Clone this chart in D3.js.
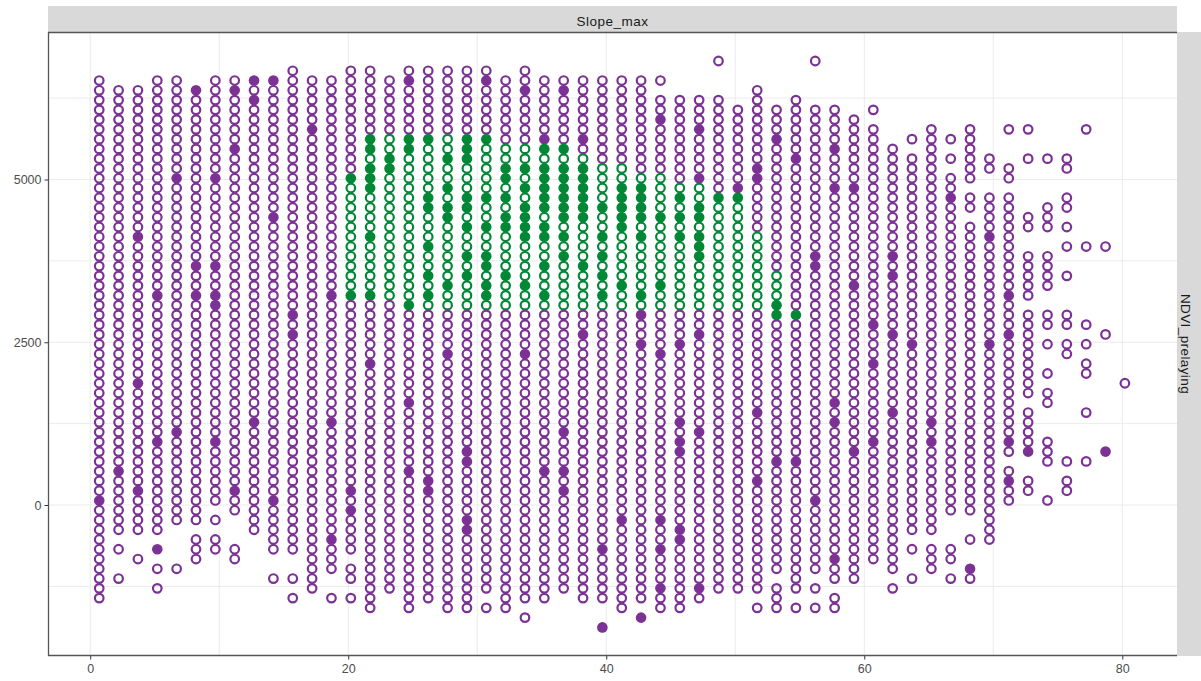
<!DOCTYPE html>
<html><head><meta charset="utf-8">
<script src="https://cdn.jsdelivr.net/npm/d3@7/dist/d3.min.js"></script>
<style>html,body{margin:0;padding:0;background:#fff}svg{display:block}text{font-family:"Liberation Sans",Arial,sans-serif}</style>
</head><body><svg id="c" width="1201" height="681"></svg>
<script>
// Slope_max level of every column of points
const slopeLevels = [0.7,2.2,3.7,5.2,6.7,8.2,9.7,11.2,12.7,14.2,15.7,17.2,18.7,20.2,21.7,23.2,24.7,26.2,27.7,29.2,30.7,32.2,33.7,35.2,36.7,38.2,39.7,41.2,42.7,44.2,45.7,47.2,48.7,50.2,51.7,53.2,54.7,56.2,57.7,59.2,60.7,62.2,63.7,65.2,66.7,68.2,69.7,71.2,72.7,74.2,75.7,77.2,78.7,80.2];
// NDVI_prelaying level of every row of points
const ndviLevels = [6820,6670,6520,6370,6220,6070,5920,5770,5620,5470,5320,5170,5020,4870,4720,4570,4420,4270,4120,3970,3820,3670,3520,3370,3220,3070,2920,2770,2620,2470,2320,2170,2020,1870,1720,1570,1420,1270,1120,970,820,670,520,370,220,70,-80,-230,-380,-530,-680,-830,-980,-1130,-1280,-1430,-1580,-1730,-1880];
// Runs of occupied rows in each column [first,last]
const occupiedRuns = [
[[2,55]],[[3,48],[50,50],[53,53]],[[3,48],[51,51]],[[2,48],[50,50],[52,52],[54,54]],[[2,47],[52,52]],
[[3,47],[49,51]],[[2,45],[47,47],[49,50]],[[2,46],[50,51]],[[2,48]],[[2,50],[53,53]],
[[1,50],[53,53],[55,55]],[[2,54]],[[2,52],[55,55]],[[1,50],[52,53],[55,55]],[[1,56]],
[[2,54]],[[1,56]],[[1,55]],[[1,56]],[[1,56]],
[[1,54],[56,56]],[[2,56]],[[1,55],[57,57]],[[2,55]],[[2,54]],
[[2,55]],[[2,55],[58,58]],[[2,56]],[[2,55],[57,57]],[[2,2],[4,56]],
[[4,56]],[[4,55]],[[0,0],[4,54]],[[5,54]],[[3,54],[56,56]],
[[5,52],[54,56]],[[4,54],[56,56]],[[0,0],[5,52],[54,54],[56,56]],[[5,53],[55,56]],[[6,53]],
[[5,5],[7,51]],[[9,52],[54,54]],[[8,8],[10,48],[50,50],[53,53]],[[7,48],[50,52]],[[8,8],[10,10],[12,46],[50,51],[53,53]],
[[7,12],[14,15],[17,46],[49,49],[52,53]],[[10,11],[14,49]],[[7,7],[11,12],[14,40],[42,45]],
[[7,7],[10,10],[16,17],[20,24],[26,34],[36,40],[43,44]],
[[10,10],[15,17],[20,23],[26,27],[29,29],[32,32],[34,35],[39,41],[45,45]],
[[10,11],[14,15],[17,17],[19,19],[22,22],[26,27],[29,30],[41,41],[43,44]],
[[7,7],[19,19],[27,27],[29,29],[31,32],[36,36],[41,41]],[[19,19],[28,28],[40,40]],[[33,33]]
];
// Rows whose point is solid in each column
const solidRows = [
[45],[42],[18,33,44],[24,39,50],[12,38],[3,21,24],[12,21,24,25,39],[3,9,44],[2,4,37],[2,16,45],[26,28],[7],[24,37,49],
[12,24,44,46],[8,9,11,12,13,18,24,31],[10,11],[2,8,9,25,35,42],[8,14,15,19,22,24,43,44],[10,13,15,16,23,30],
[8,9,10,14,15,17,20,22,40,41,47,48],[2,8,14,17,20,21,23,24],[11,12,14,16,17,22],[3,11,13,15,16,17,18,23,30],
[8,9,11,12,13,14,15,17,18,21,24,42],[3,9,11,12,13,14,15,16,18,20,38,42,44],[8,11,12,13,14,15,16,21,28],
[15,18,20,22,24,50,58],[13,14,15,16,17,23,47],[13,14,15,16,18,24,26,29,57],[6,16,23,30,47,50,54],
[14,16,18,29,37,39,40,48,49],[7,12,15,16,18,19,20,28,38,54],[14],[13,14],[11,12,36,43],[8,25,26,41],[10,26,41],
[20,21,45],[9,13,35,37,51],[13,23,40],[27,31,39],[20,22,28,36],[29],[37,39],[14],[52],[18,29],[24,28,39,43],[40],[],[],[],[40],[]
];
// Rows in the green group, by column index
const greenColumns = [13,14,15,16,17,18,19,20,21,22,23,24,25,26,27,28,29,30,31,32,33,34,35,36];
const greenRuns = [[12,24],[8,24],[8,24],[8,25],[8,25],[8,25],[8,25],[8,25],[9,25],[9,25],[9,25],[9,25],[10,25],[11,25],[11,25],[12,25],[12,25],[13,25],[13,25],[14,25],[14,25],[18,25],[22,26],[26,26]];
const xTicks = [0,20,40,60,80];
const xMinor = [10,30,50,70];
const yTicks = [0,2500,5000];
const yMinor = [-1250,1250,3750,6250];
const stripTop = "Slope_max";
const stripRight = "NDVI_prelaying";
const purple = "#7B3294", green = "#008837";

const svg = d3.select("#c");
const L=48,R=1177,T=32,B=656;
const x = d3.scaleLinear().domain([0,80]).range([90.2,1122.3]);
const y = d3.scaleLinear().domain([0,5000]).range([505,179.5]);

svg.append("rect").attr("x",L).attr("y",6).attr("width",R-L).attr("height",T-6).attr("fill","#d9d9d9");
svg.append("rect").attr("x",R).attr("y",T).attr("width",1201-R).attr("height",B-T).attr("fill","#d9d9d9");
svg.append("text").attr("x",(L+R)/2).attr("y",25.5).attr("text-anchor","middle").attr("font-size",13.5).attr("letter-spacing",0.5).attr("fill","#1a1a1a").text(stripTop);
svg.append("text").attr("transform",`translate(1181,${(T+B)/2}) rotate(90)`).attr("text-anchor","middle").attr("font-size",13.5).attr("letter-spacing",0.4).attr("fill","#1a1a1a").text(stripRight);

const grid = svg.append("g").attr("stroke","#ebebeb").attr("fill","none");
xMinor.forEach(v=>grid.append("line").attr("x1",x(v)).attr("x2",x(v)).attr("y1",T).attr("y2",B).attr("stroke-width",1));
yMinor.forEach(v=>grid.append("line").attr("x1",L).attr("x2",R).attr("y1",y(v)).attr("y2",y(v)).attr("stroke-width",1));
xTicks.forEach(v=>grid.append("line").attr("x1",x(v)).attr("x2",x(v)).attr("y1",T).attr("y2",B).attr("stroke-width",1));
yTicks.forEach(v=>grid.append("line").attr("x1",L).attr("x2",R).attr("y1",y(v)).attr("y2",y(v)).attr("stroke-width",1));

// build points from the per-column arrays
const points = [];
occupiedRuns.forEach((runs,c)=>{
  const gi = greenColumns.indexOf(c);
  const gr = gi>=0 ? greenRuns[gi] : null;
  runs.forEach(([a,b])=>d3.range(a,b+1).forEach(r=>{
    points.push({
      s:slopeLevels[c], n:ndviLevels[r],
      solid:solidRows[c].includes(r),
      col:(gr&&r>=gr[0]&&r<=gr[1])?green:purple
    });
  }));
});
const g = svg.append("g");
g.selectAll("circle").data(points).join("circle")
  .attr("cx",d=>x(d.s)).attr("cy",d=>y(d.n))
  .attr("r",d=>d.solid?5.3:4.3)
  .attr("fill",d=>d.solid?d.col:"none")
  .attr("stroke",d=>d.solid?"none":d.col)
  .attr("stroke-width",2.2);

const gx = svg.append("g").attr("transform",`translate(0,${B})`).call(d3.axisBottom(x).tickValues(xTicks).tickSize(3.5).tickPadding(5).tickFormat(d3.format("d")));
const gy = svg.append("g").attr("transform",`translate(${L},0)`).call(d3.axisLeft(y).tickValues(yTicks).tickSize(3.5).tickPadding(3).tickFormat(d3.format("d")));
[gx,gy].forEach(a=>{
  a.select(".domain").remove();
  a.selectAll("line").attr("stroke","#333").attr("stroke-width",1);
  a.selectAll("text").attr("font-size",12.5).attr("fill","#4d4d4d").style("font-family",'"Liberation Sans",Arial,sans-serif');
});
const frame = svg.append("g").attr("stroke","#555").attr("stroke-width",1.3);
frame.append("line").attr("x1",L+0.5).attr("x2",L+0.5).attr("y1",T).attr("y2",B);
frame.append("line").attr("x1",L).attr("x2",R).attr("y1",T+0.5).attr("y2",T+0.5);
frame.append("line").attr("x1",L).attr("x2",R).attr("y1",B-0.5).attr("y2",B-0.5);
</script></body></html>
